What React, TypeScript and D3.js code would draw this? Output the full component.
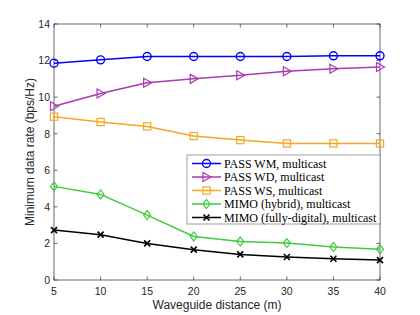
import React from "react";
import * as d3 from "d3";

const distances = [5, 10, 15, 20, 25, 30, 35, 40];
const passWM = [11.86, 12.04, 12.22, 12.22, 12.22, 12.22, 12.26, 12.26];
const passWD = [9.5, 10.2, 10.79, 11.0, 11.2, 11.42, 11.55, 11.65];
const passWS = [8.93, 8.64, 8.4, 7.87, 7.65, 7.47, 7.47, 7.47];
const mimoHybrid = [5.12, 4.68, 3.55, 2.38, 2.1, 2.02, 1.8, 1.68];
const mimoDigital = [2.73, 2.48, 2.0, 1.66, 1.4, 1.26, 1.16, 1.09];
const seriesNames = [
  "PASS WM, multicast",
  "PASS WD, multicast",
  "PASS WS, multicast",
  "MIMO (hybrid), multicast",
  "MIMO (fully-digital), multicast",
];
const xTicks = [5, 10, 15, 20, 25, 30, 35, 40];
const yTicks = [0, 2, 4, 6, 8, 10, 12, 14];

const colors = ["#0000ff", "#a93ab0", "#f5a623", "#3ccc3c", "#000000"];
const markers = ["circle", "triangle", "square", "diamond", "x"];

const W = 420, H = 315;
const m = { left: 54, right: 40, top: 24, bottom: 35 };

function Marker({ type, x, y, color }: { type: string; x: number; y: number; color: string }) {
  if (type === "circle") return <circle cx={x} cy={y} r={4} fill="none" stroke={color} strokeWidth={1.4} />;
  if (type === "triangle")
    return <path d={`M${x - 3.5},${y - 4.5}L${x + 4.5},${y}L${x - 3.5},${y + 4.5}Z`} fill="none" stroke={color} strokeWidth={1.2} />;
  if (type === "square")
    return <rect x={x - 3.6} y={y - 3.6} width={7.2} height={7.2} fill="none" stroke={color} strokeWidth={1.2} />;
  if (type === "diamond")
    return <path d={`M${x},${y - 4.5}L${x + 3.5},${y}L${x},${y + 4.5}L${x - 3.5},${y}Z`} fill="none" stroke={color} strokeWidth={1.2} />;
  return (
    <path d={`M${x - 3},${y - 3}L${x + 3},${y + 3}M${x - 3},${y + 3}L${x + 3},${y - 3}`} stroke={color} strokeWidth={1.6} />
  );
}

export default function App() {
  const x = d3.scaleLinear().domain([5, 40]).range([m.left, W - m.right]);
  const y = d3.scaleLinear().domain([0, 14]).range([H - m.bottom, m.top]);
  const series = [passWM, passWD, passWS, mimoHybrid, mimoDigital];
  const line = d3
    .line<number>()
    .x((_, i) => x(distances[i]))
    .y((d) => y(d));
  const x0 = m.left, x1 = W - m.right, y0 = H - m.bottom, y1 = m.top;
  const axisColor = "#444";
  const tickFont = "Liberation Sans, Arial, sans-serif";
  const lx = 187, ly = 155, lw = 193, lh = 69;
  return (
    <svg width={W} height={H} style={{ position: "absolute", left: 0, top: 0, background: "#fff" }}>
      <rect x={0} y={0} width={W} height={H} fill="#fff" />
      <rect x={x0} y={y1} width={x1 - x0} height={y0 - y1} fill="none" stroke={axisColor} strokeWidth={0.8} />
      {xTicks.map((t) => (
        <g key={"x" + t}>
          <line x1={x(t)} x2={x(t)} y1={y0} y2={y0 - 3.5} stroke={axisColor} strokeWidth={0.8} />
          <line x1={x(t)} x2={x(t)} y1={y1} y2={y1 + 3.5} stroke={axisColor} strokeWidth={0.8} />
          <text x={x(t)} y={y0 + 15} textAnchor="middle" fontSize={10.5} fontFamily={tickFont} fill="#262626">
            {t}
          </text>
        </g>
      ))}
      {yTicks.map((t) => (
        <g key={"y" + t}>
          <line x1={x0} x2={x0 + 3.5} y1={y(t)} y2={y(t)} stroke={axisColor} strokeWidth={0.8} />
          <line x1={x1} x2={x1 - 3.5} y1={y(t)} y2={y(t)} stroke={axisColor} strokeWidth={0.8} />
          <text x={x0 - 4} y={y(t) + 3.8} textAnchor="end" fontSize={10.5} fontFamily={tickFont} fill="#262626">
            {t}
          </text>
        </g>
      ))}
      <text x={(x0 + x1) / 2} y={309} textAnchor="middle" fontSize={12} fontFamily={tickFont} fill="#262626">
        Waveguide distance (m)
      </text>
      <text
        transform={`translate(${34},${(y0 + y1) / 2}) rotate(-90)`}
        textAnchor="middle"
        fontSize={12}
        fontFamily={tickFont}
        fill="#262626"
      >
        Minimum data rate (bps/Hz)
      </text>
      {series.map((s, si) => (
        <g key={"s" + si}>
          <path d={line(s) || ""} fill="none" stroke={colors[si]} strokeWidth={1.5} />
          {s.map((v, i) => (
            <Marker key={i} type={markers[si]} x={x(distances[i])} y={y(v)} color={colors[si]} />
          ))}
        </g>
      ))}
      <rect x={lx} y={ly} width={lw} height={lh} fill="#fff" stroke="#888" strokeWidth={0.8} />
      {seriesNames.map((n, i) => {
        const yy = ly + 8.5 + i * 13.5;
        return (
          <g key={"l" + i}>
            <line x1={lx + 5} x2={lx + 34} y1={yy} y2={yy} stroke={colors[i]} strokeWidth={1.5} />
            <Marker type={markers[i]} x={lx + 19.5} y={yy} color={colors[i]} />
            <text x={lx + 37} y={yy + 4} fontSize={12} fontFamily="Liberation Serif, Times New Roman, serif" fill="#000">
              {n}
            </text>
          </g>
        );
      })}
    </svg>
  );
}
